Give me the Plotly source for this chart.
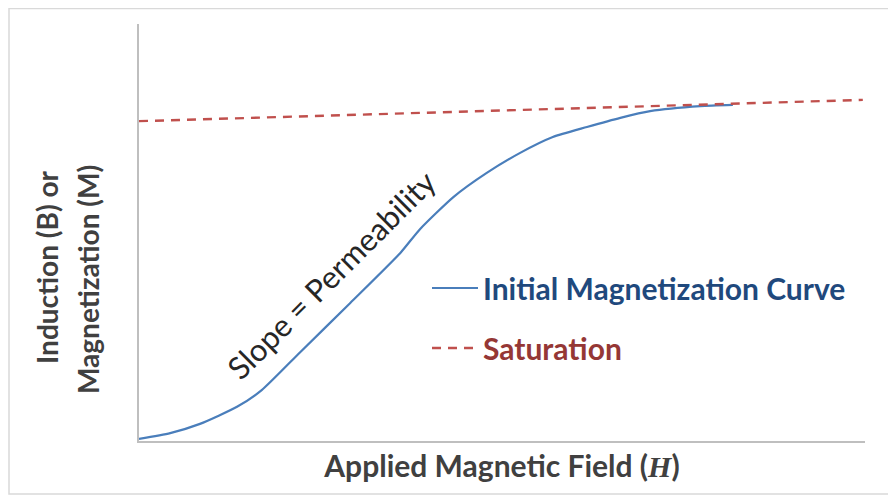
import plotly.graph_objects as go

# Applied field H (arbitrary units, 0-100) and induction B / magnetization M (arbitrary units)
curve_h = [0, 4.3, 8.4, 13.5, 16.9, 22.2, 29.1, 36.0, 38.7, 43.3, 47.9, 52.5, 57.0, 61.7, 66.3, 70.4, 77.3, 81.8]
curve_b = [0.5, 1.9, 4.1, 8.2, 12.2, 21.3, 33.1, 45.1, 50.8, 58.5, 64.3, 69.1, 72.9, 75.3, 77.5, 79.1, 80.3, 80.6]
sat_h = [0, 99.7]
sat_b = [76.7, 81.8]

curve_name = "Initial Magnetization Curve"
sat_name = "Saturation"
x_title = "Applied Magnetic Field (<i style='font-family:Liberation Serif'>H</i>)"
y_title_lines = ["Induction (B) or", "Magnetization (M)"]
slope_label = "Slope = Permeability"

FONT = "Lato, 'Open Sans', sans-serif"

fig = go.Figure()
fig.add_trace(go.Scatter(
    x=curve_h, y=curve_b, mode="lines", legendgroup="a",
    name=f"<span style='color:#1f497d'><b>{curve_name}</b></span>",
    line=dict(color="#4a7ebb", width=2.2, shape="spline", smoothing=0.6),
))
fig.add_trace(go.Scatter(
    x=sat_h, y=sat_b, mode="lines", legendgroup="b",
    name=f"<span style='color:#953735'><b>{sat_name}</b></span>",
    line=dict(color="#c0504d", width=2.4, dash="9px,7px"),
))

# page body has an 8px margin; screen-pixel helpers below use screen coordinates
OFF = 8
W, H = 896, 499
SL, SR, ST, SB = 139, 865, 24, 441  # plot area in screen pixels
L, T = SL - OFF, ST - OFF
R = W + OFF - SR
B = H + OFF - SB
pw, ph = SR - SL, SB - ST

def px_x(p):
    return (p - SL) / pw

def px_y(p):
    return (SB - p) / ph

annotations = [
    dict(text=f"<b>{y_title_lines[0]}</b>", x=px_x(47), y=px_y(268), xref="paper", yref="paper",
         showarrow=False, textangle=-90, font=dict(size=28, color="#404040", family=FONT),
         xanchor="center", yanchor="middle"),
    dict(text=f"<b>{y_title_lines[1]}</b>", x=px_x(88), y=px_y(280), xref="paper", yref="paper",
         showarrow=False, textangle=-90, font=dict(size=28, color="#404040", family=FONT),
         xanchor="center", yanchor="middle"),
    dict(text=slope_label, x=26.4, y=39.8, xref="x", yref="y", showarrow=False,
         textangle=-45, font=dict(size=31, color="#262626", family=FONT),
         xanchor="center", yanchor="middle"),
]

fig.update_layout(
    width=W, height=H,
    margin=dict(l=L, r=R, t=T, b=B, autoexpand=False),
    paper_bgcolor="white", plot_bgcolor="white",
    font=dict(family=FONT, size=24, color="#404040"),
    showlegend=True,
    legend=dict(x=px_x(427), y=px_y(262), xanchor="left", yanchor="top",
                bgcolor="rgba(0,0,0,0)", font=dict(size=30, family=FONT),
                tracegroupgap=18, itemwidth=46, traceorder="grouped"),
    annotations=annotations,
    shapes=[dict(type="rect", xref="paper", yref="paper",
                 x0=px_x(9), x1=px_x(910), y0=px_y(494), y1=px_y(8.5),
                 line=dict(color="#d9d9d9", width=1.5), layer="below")],
    xaxis=dict(range=[0, 100], showgrid=False, zeroline=False, showticklabels=False,
               ticks="", showline=True, linecolor="#bfbfbf", linewidth=1.8,
               title=dict(text=f"<b>{x_title}</b>", standoff=14,
                          font=dict(size=30, color="#404040", family=FONT))),
    yaxis=dict(range=[0, 100], showgrid=False, zeroline=False, showticklabels=False,
               ticks="", showline=True, linecolor="#bfbfbf", linewidth=1.8),
)

fig.write_html("out.html", config={"displayModeBar": False})
